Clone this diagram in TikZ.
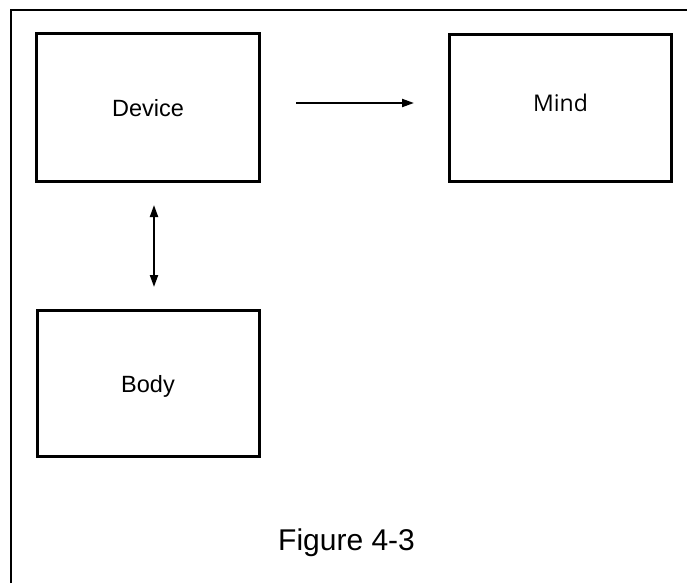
\documentclass[tikz,border=0pt]{standalone}
\usepackage{fontspec}
\setmainfont{Liberation Sans}
\newfontfamily\mindfont{Open Sans}
\usetikzlibrary{arrows.meta}
\begin{document}
\begin{tikzpicture}[x=1pt,y=-1pt,
  blockbox/.style={draw,line width=3pt,minimum width=223pt,minimum height=148pt,inner sep=0pt},
  tip/.tip={Triangle[length=12pt,width=8pt]},
  link/.style={line width=2pt,-tip},
  biglink/.style={line width=2pt,tip-tip}]
\useasboundingbox (0,0) rectangle (687,583);
% open frame: left and top edges only
\draw[line width=2pt] (11,583) -- (11,10) -- (687,10);
\node[blockbox] (device) at (148,107.5) {};
\node[font=\fontsize{23.5}{28}\selectfont] (devicetext) at (148,108) {Device};
\node[blockbox,minimum width=222pt,minimum height=147pt] (mind) at (560.5,108) {};
\node[font=\mindfont\fontsize{23}{28}\selectfont] (mindtext) at (560.5,103) {Mind};
\node[blockbox,minimum width=222pt,minimum height=146pt] (body) at (148.5,383.5) {};
\node[font=\fontsize{23.5}{28}\selectfont] (bodytext) at (148,386) {Body};
\coordinate (hstart) at (296,103);
\coordinate (hend) at (414,103);
\draw[link] (hstart) -- (hend);
\coordinate (vtop) at (154,205);
\coordinate (vbot) at (154,287);
\draw[biglink] (vtop) -- (vbot);
\node[font=\fontsize{30}{34}\selectfont,anchor=base west,inner sep=0pt] (caption) at (278,550) {Figure 4-3};
\end{tikzpicture}
\end{document}
